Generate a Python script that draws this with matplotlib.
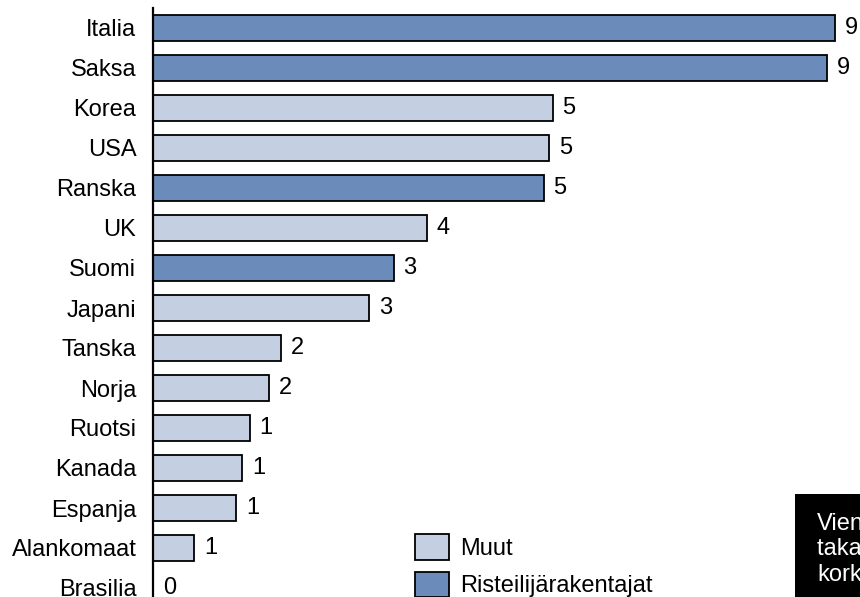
import matplotlib.pyplot as plt
from matplotlib.patches import Patch, Rectangle

plt.rcParams['font.family'] = ['Liberation Sans', 'DejaVu Sans']

countries = ['Italia', 'Saksa', 'Korea', 'USA', 'Ranska', 'UK', 'Suomi', 'Japani',
             'Tanska', 'Norja', 'Ruotsi', 'Kanada', 'Espanja', 'Alankomaat', 'Brasilia']
values = [9.09, 8.99, 5.33, 5.28, 5.21, 3.65, 3.21, 2.88,
          1.71, 1.55, 1.29, 1.19, 1.11, 0.55, 0.0]
builders = [True, True, False, False, True, False, True, False,
            False, False, False, False, False, False, False]

col_light = '#C4CFE1'
col_dark = '#6B8CBA'

W, H = 860, 597
fig = plt.figure(figsize=(W / 100, H / 100), dpi=100)
ax = fig.add_axes([153 / W, 0, 707 / W, 589 / H])

n = len(countries)
ypos = [n - 1 - i for i in range(n)]
colors = [col_dark if b else col_light for b in builders]
ax.barh(ypos, values, height=0.66, color=colors, edgecolor='black', linewidth=1.3)

for y, v in zip(ypos, values):
    ax.annotate(f'{v:.0f}', (v, y), xytext=(7, 0), textcoords='offset points',
                ha='left', va='center', fontsize=17)

ax.set_xlim(0, 707 / 75)
ax.set_ylim(-0.225, 14.5)
ax.set_yticks(ypos)
ax.set_yticklabels(countries, fontsize=17)
ax.tick_params(axis='y', length=0, pad=12)
ax.set_xticks([])
for s in ['top', 'right', 'bottom']:
    ax.spines[s].set_visible(False)
ax.spines['left'].set_linewidth(1.6)

handles = [Patch(facecolor=col_light, edgecolor='black', linewidth=1.3, label='Muut'),
           Patch(facecolor=col_dark, edgecolor='black', linewidth=1.3, label='Risteilijärakentajat')]
fig.legend(handles=handles, loc='upper left', bbox_to_anchor=(415 / W, 63 / H),
           frameon=False, fontsize=17, handlelength=1.44, handleheight=1.3,
           handletextpad=0.45, labelspacing=0.5, borderpad=0, borderaxespad=0)

fig.patches.append(Rectangle((795 / W, 0), 80 / W, 103 / H, transform=fig.transFigure,
                             facecolor='black', edgecolor='none'))
fig.text(817 / W, 84 / H, 'Vientituet,\ntakaukset ja\nkorkotuki', color='white',
         fontsize=17, ha='left', va='top', linespacing=1.2)

fig.savefig('out.png', dpi=100)
